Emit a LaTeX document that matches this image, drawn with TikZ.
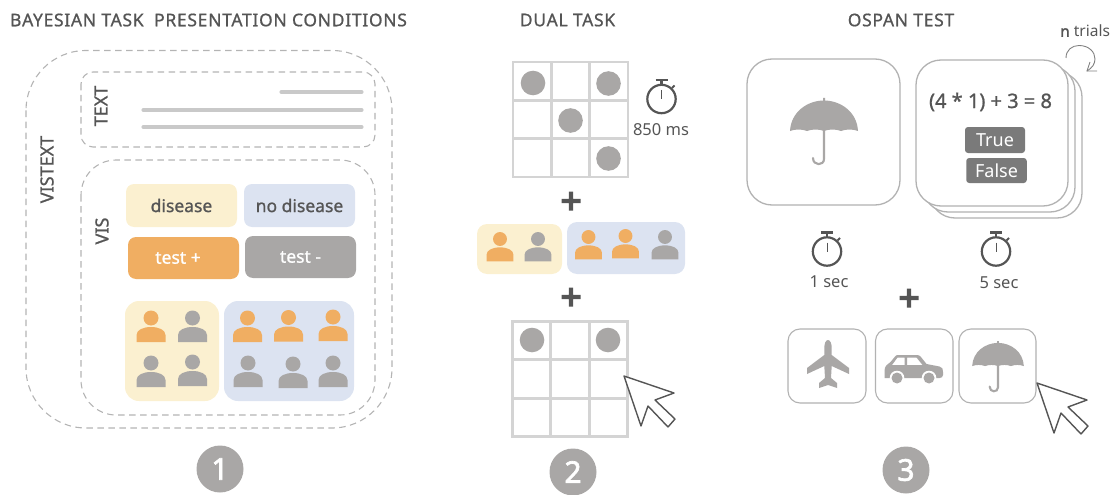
\documentclass[tikz,border=0pt]{standalone}
\usepackage{fontspec}
\setmainfont{Noto Sans}
\newfontfamily\medf[FakeBold=1.0]{Noto Sans}
\newfontfamily\titlef[FakeBold=0.9,LetterSpace=4]{Noto Sans}
\newfontfamily\heavyf[FakeBold=2.2]{Noto Sans}
\definecolor{ink}{HTML}{555555}
\definecolor{dashc}{HTML}{B4B4B4}
\definecolor{barc}{HTML}{C9C9C9}
\definecolor{yel}{HTML}{FBF0D0}
\definecolor{blu}{HTML}{DCE3F1}
\definecolor{ora}{HTML}{F0AE62}
\definecolor{gry}{HTML}{A9A7A6}
\definecolor{gridc}{HTML}{D4D4D4}
\definecolor{cardc}{HTML}{B2B2B2}
\definecolor{btn}{HTML}{7A7A7A}
\definecolor{loopc}{HTML}{808080}
\tikzset{
  x=1pt,y=-1pt,
  dashbox/.style={draw=dashc,line width=1.1pt,dash pattern=on 6.5pt off 4.5pt},
  bar/.style={draw=barc,line width=4.2pt,line cap=round},
  swatch/.style={rounded corners=8pt,inner sep=0pt,text=ink,font=\medf\fontsize{17.5}{20}\selectfont},
  swatchtext/.style={inner sep=0pt,text=white,font=\medf\fontsize{17.5}{20}\selectfont},
  title/.style={text=ink,font=\titlef\fontsize{17.5}{18}\selectfont,inner sep=0pt,anchor=center},
  vlabel/.style={text=ink,font=\medf\fontsize{18}{18}\selectfont,rotate=90,inner sep=0pt},
  small/.style={text=ink,font=\fontsize{16.5}{17}\selectfont,inner sep=0pt},
  card/.style={draw=cardc,fill=white,line width=1.3pt,rounded corners=25pt},
  iconbox/.style={draw=cardc,fill=white,line width=1.1pt,rounded corners=12pt},
  btnbox/.style={fill=btn,rounded corners=3pt,text=white,inner sep=0pt,font=\fontsize{18}{20}\selectfont},
  badge/.style={circle,fill=gry,text=white,minimum size=47pt,inner sep=0pt,font=\heavyf\fontsize{30}{32}\selectfont},
  gridline/.style={draw=gridc,line width=2.8pt},
  dot/.style={fill=gry},
  pics/person/.style={code={
    \path[pic actions] (0,0) circle (7.5);
    \path[pic actions] (-14.5,24) -- (-14.5,17) .. controls (-14.5,12) and (-8,9) .. (0,9)
       .. controls (8,9) and (14.5,12) .. (14.5,17) -- (14.5,24) -- cycle;
  }},
  pics/grid/.style={code={
    \draw[gridline] (0,0) rectangle (115,115);
    \draw[gridline] (38.3,0) -- (38.3,115) (76.7,0) -- (76.7,115) (0,38.3) -- (115,38.3) (0,76.7) -- (115,76.7);
  }},
  pics/plussign/.style={code={
    \fill[ink] (-9.5,-2.2) rectangle (9.5,2.2) (-2.2,-9.5) rectangle (2.2,9.5);
  }},
  pics/stopwatch/.style={code={
    \draw[ink,line width=2.2pt] (0,0) circle (14.2);
    \draw[ink,line width=2.2pt] (-6,-19) -- (6,-19) (0,-19) -- (0,-14);
    \draw[ink,line width=2pt] (10.5,-11) -- (13,-13.5);
    \draw[ink,line width=1pt] (0,-9) -- (0,0);
  }},
  pics/cursor/.style={code={
    \draw[ink,fill=white,line width=1.4pt,line join=round] (0,0) -- (50,17) -- (31,24) -- (51,43) -- (44,51) -- (24,30) -- (17,50) -- cycle;
  }},
  pics/umbrella/.style={code={
    \fill[gry] (-34,33) .. controls (-33,14) and (-17,3) .. (-1,2.5) -- (-1,0) -- (1,0) -- (1,2.5)
      .. controls (17,3) and (33,14) .. (34,33)
      .. controls (29,31) and (22,31) .. (17,33) .. controls (12,31) and (5,31) .. (0,33)
      .. controls (-5,31) and (-12,31) .. (-17,33) .. controls (-22,31) and (-29,31) .. (-34,33) -- cycle;
    \draw[gry,line width=2.1pt,line cap=round] (0,30) -- (0,61) .. controls (0,68) and (-11,68) .. (-11,60);
  }},
  pics/plane/.style={code={
    \fill[gry] (0,-23) .. controls (2.5,-23) and (3.7,-19) .. (3.7,-15) -- (3.7,-8) -- (21,5) -- (21,11) -- (3.7,3) -- (3,15) -- (9,20) -- (9,25) -- (0,22) -- (-9,25) -- (-9,20) -- (-3,15) -- (-3.7,3) -- (-21,11) -- (-21,5) -- (-3.7,-8) -- (-3.7,-15) .. controls (-3.7,-19) and (-2.5,-23) .. (0,-23) -- cycle;
  }},
  pics/car/.style={code={
    \fill[gry,even odd rule] (-29,8) -- (-29,1) .. controls (-29,-4) and (-26,-6) .. (-23,-8) -- (-18,-14) .. controls (-17.5,-15) and (-16,-15) .. (-15,-15) -- (3,-15) .. controls (5,-15) and (6,-14.5) .. (7,-13.5) -- (13,-6) -- (26,-3.5) .. controls (29,-3) and (29.5,-1) .. (29.5,2) -- (29.5,5) .. controls (29.5,7) and (28,8) .. (26,8) -- cycle
      (-21.5,-5) -- (-16,-12.5) -- (-9,-12.5) -- (-9,-5) -- cycle (-6.5,-12.5) -- (3,-12.5) -- (9,-5) -- (-6.5,-5) -- cycle;
    \fill[white] (-16.5,8) circle (7.3) (15.5,8) circle (7.3);
    \fill[gry] (-16.5,8) circle (5.5) (15.5,8) circle (5.5);
  }},
}
\begin{document}
\begin{tikzpicture}
\useasboundingbox (0,0) rectangle (1112,495);
% titles
\node[title] (t1) at (208.5,20) {BAYESIAN TASK\ \ PRESENTATION CONDITIONS};
\node[title] (t2) at (567.5,20) {DUAL TASK};
\node[title] (t3) at (901,20) {OSPAN TEST};
% panel 1
\draw[dashbox,rounded corners=60pt] (26,50.5) rectangle (392,428);
\draw[dashbox,rounded corners=12pt] (81,72) rectangle (375,147);
\draw[dashbox,rounded corners=35pt] (81,160) rectangle (375,415);
\draw[bar] (281.5,92) -- (361.5,92);
\draw[bar] (143.5,110) -- (361.5,110);
\draw[bar] (143.5,127) -- (361.5,127);
\node[vlabel] (lvt) at (47,169.5) {VISTEXT};
\node[vlabel] (lt) at (101,106) {TEXT};
\node[vlabel] (lv) at (102,231) {VIS};
\node[swatch,fill=yel,minimum width=111pt,minimum height=43pt] (dis) at (181.5,205.5) {disease};
\node[swatch,fill=blu,minimum width=111pt,minimum height=43pt] (nodis) at (299.5,205.5) {no disease};
\node[swatch,fill=ora,minimum width=111pt,minimum height=42pt] (tp) at (183.5,258) {};
\node[swatchtext] (tpt) at (178,258) {test +};
\node[swatch,fill=gry,text=white,minimum width=111pt,minimum height=42pt] (tm) at (300.5,257) {test -};
\fill[yel,rounded corners=14pt] (125,301) rectangle (219,401);
\fill[blu,rounded corners=14pt] (224,301) rectangle (354,401);
\foreach \x/\y/\c in {151/318/ora,192.5/318/gry,151/363/gry,192.5/362/gry,
  247.5/318/ora,288.5/317.5/ora,333/317/ora,248/363/gry,293/364/gry,333/363/gry}
  \pic[fill=\c] at (\x,\y) {person};
\node[badge] (b1) at (220,469) {1};
% panel 2
\pic at (513,62) {grid};
\foreach \x/\y in {533/83,608.5/83.5,570.5/120.5,608.5/158.5} \fill[dot] (\x,\y) circle (12.3);
\pic at (661.5,99) {stopwatch};
\node[small] (ms) at (661,130) {850 ms};
\pic at (571,201) {plussign};
\fill[yel,rounded corners=10pt] (477,224) rectangle (562,274);
\fill[blu,rounded corners=10pt] (567,222) rectangle (685,274);
\foreach \x/\y/\c in {500/239/ora,538/239/gry,588.5/237/ora,625.5/236/ora,665/237/gry}
  \pic[fill=\c,scale=.93] at (\x,\y) {person};
\pic at (571,297) {plussign};
\pic at (512.5,321.5) {grid};
\foreach \x/\y in {532/340,608/340} \fill[dot] (\x,\y) circle (12.3);
\pic at (624,376) {cursor};
\node[badge] (b2) at (573,472) {2};
% panel 3
\node[inner sep=0pt,anchor=west,text=ink,font=\fontsize{15.5}{17}\selectfont] (nt) at (1060,31) {{\heavyf n} trials};
\draw[loopc,line width=.9pt] (1066,58) .. controls (1066,50) and (1072,45.5) .. (1079,45.5) .. controls (1089,45.5) and (1095,52) .. (1095,59) .. controls (1095,64) and (1092,68) .. (1087,71);
\draw[loopc,line width=.9pt] (1090,62) -- (1087,71) -- (1097,71);
\draw[card] (747,59) rectangle (900,205);
\pic at (824,98) {umbrella};
\draw[card] (930,72) rectangle (1082,218);
\draw[card] (923,66) rectangle (1075,212);
\draw[card] (916,60) rectangle (1068,206);
\node[inner sep=0pt,text=ink,font=\medf\fontsize{20}{21}\selectfont] (eq) at (990.5,102) {(4 * 1) + 3 = 8};
\node[btnbox,minimum width=60pt,minimum height=26pt] (tr) at (995,140) {True};
\node[btnbox,minimum width=60.5pt,minimum height=25pt] (fa) at (996.5,170.5) {False};
\pic at (827,251.5) {stopwatch};
\pic at (996,251.5) {stopwatch};
\node[small] (s1) at (829,282) {1 sec};
\node[small] (s5) at (999,283) {5 sec};
\pic at (909,298) {plussign};
\draw[iconbox] (788,329) rectangle (866,403);
\draw[iconbox] (875.5,329) rectangle (953,403);
\draw[iconbox] (959,329) rectangle (1036,403);
\pic at (828,363) {plane};
\pic at (913.5,370) {car};
\pic[scale=.76] at (998,341) {umbrella};
\pic at (1037,383) {cursor};
\node[badge] (b3) at (906,470) {3};
\end{tikzpicture}
\end{document}
